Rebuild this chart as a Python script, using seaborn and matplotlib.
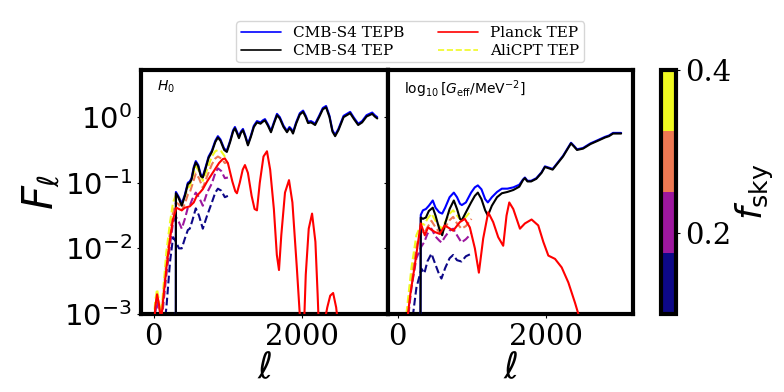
import numpy as np
import matplotlib
matplotlib.use('Agg')
import matplotlib.pyplot as plt
import seaborn as sns
from matplotlib.lines import Line2D
from matplotlib.colors import ListedColormap, Normalize
from matplotlib.ticker import FuncFormatter, MultipleLocator, NullLocator

# ---------------- data (log10 F_ell) ----------------
fsky = [0.1, 0.2, 0.3, 0.4]

# H0 panel, CMB-S4
ell_h0_s4 = [297, 299, 330, 378, 420, 460, 486, 510, 540, 567,
             600, 635, 662, 700, 740, 784, 830, 865, 900, 950,
             986, 1030, 1070, 1095, 1125, 1149, 1175, 1203, 1235, 1270,
             1310, 1350, 1392, 1440, 1470, 1500, 1540, 1581, 1620, 1662,
             1700, 1750, 1797, 1830, 1855, 1878, 1920, 1970, 2014, 2050,
             2081, 2120, 2150, 2176, 2230, 2280, 2324, 2370, 2410, 2446,
             2490, 2560, 2649, 2700, 2757, 2810, 2870, 2946, 2980, 3014]
logF_h0_tep = [-6, -1.16, -1.22, -1.35, -1.2, -1.02, -1.0, -0.95, -0.78, -0.69,
               -0.75, -0.9, -0.92, -0.78, -0.62, -0.53, -0.38, -0.31, -0.36, -0.5,
               -0.53, -0.38, -0.22, -0.17, -0.25, -0.32, -0.24, -0.2, -0.3, -0.43,
               -0.3, -0.15, -0.08, -0.1, -0.07, -0.05, -0.13, -0.23, -0.1, 0.03,
               -0.02, -0.15, -0.23, -0.17, -0.2, -0.25, -0.1, 0.04, 0.08, 0.0,
               -0.09, -0.08, -0.1, -0.12, 0.0, 0.12, 0.15, 0.0, -0.22, -0.29,
               -0.2, 0.0, 0.06, -0.03, -0.12, -0.08, 0.01, 0.05, 0.01, -0.02]
logF_h0_tepb = [-6, -1.14, -1.2, -1.32, -1.18, -1.0, -0.98, -0.93, -0.76, -0.67,
                -0.73, -0.88, -0.9, -0.76, -0.6, -0.51, -0.36, -0.29, -0.34, -0.48,
                -0.51, -0.36, -0.2, -0.15, -0.23, -0.3, -0.22, -0.18, -0.28, -0.41,
                -0.28, -0.13, -0.06, -0.08, -0.05, -0.03, -0.11, -0.21, -0.08, 0.05,
                0.0, -0.13, -0.21, -0.15, -0.18, -0.23, -0.08, 0.06, 0.1, 0.02,
                -0.07, -0.06, -0.08, -0.1, 0.02, 0.14, 0.17, 0.02, -0.2, -0.27,
                -0.18, 0.02, 0.08, -0.01, -0.1, -0.06, 0.03, 0.07, 0.03, 0.0]

# H0 panel, Planck
ell_h0_planck = [2, 20, 45, 70, 100, 130, 175, 220, 261, 306,
                 340, 378, 420, 486, 540, 580, 622, 660, 720, 800,
                 880, 930, 959, 1000, 1060, 1100, 1122, 1160, 1200, 1230,
                 1270, 1320, 1360, 1392, 1430, 1480, 1527, 1570, 1620, 1660,
                 1689, 1720, 1770, 1824, 1870, 1930, 1980, 2014, 2050, 2090,
                 2135, 2180, 2210, 2240, 2290, 2340, 2380, 2419, 2460, 2500, 2600]
logF_h0_planck = [-3.3, -2.9, -2.7, -2.85, -3.1, -2.75, -2.26, -1.85, -1.55, -1.38,
                  -1.4, -1.42, -1.38, -1.36, -1.3, -1.2, -1.15, -1.1, -0.98, -0.84,
                  -0.7, -0.64, -0.63, -0.7, -0.98, -1.13, -1.16, -1.0, -0.8, -0.73,
                  -0.85, -1.2, -1.4, -1.42, -1.0, -0.6, -0.52, -0.8, -1.4, -2.1,
                  -2.33, -1.8, -1.15, -0.96, -1.3, -2.3, -3.2, -3.6, -2.4, -1.7,
                  -1.47, -1.9, -2.7, -3.6, -3.2, -2.9, -2.72, -2.68, -2.9, -3.3, -4.0]

# H0 panel, AliCPT for each fsky
ell_h0_ali = [2, 20, 45, 70, 100, 130, 171, 220, 261, 300,
              340, 378, 420, 460, 486, 520, 567, 610, 662, 720,
              784, 830, 865, 910, 959, 1000]
logF_h0_ali_01 = [-3.6, -3.4, -3.2, -3.3, -3.5, -3.3, -2.9, -2.2, -1.83, -1.9,
                  -2.0, -2.0, -1.85, -1.72, -1.7, -1.58, -1.39, -1.5, -1.7, -1.5,
                  -1.3, -1.15, -1.09, -1.12, -1.22, -1.2]
logF_h0_ali_02 = [-3.3, -3.0, -2.8, -2.95, -3.2, -2.85, -2.4, -1.95, -1.6, -1.52,
                  -1.6, -1.7, -1.55, -1.38, -1.35, -1.25, -1.15, -1.22, -1.35, -1.15,
                  -1.01, -0.85, -0.78, -0.82, -0.93, -0.92]
logF_h0_ali_03 = [-3.2, -2.9, -2.7, -2.85, -3.1, -2.7, -2.2, -1.75, -1.45, -1.3,
                  -1.33, -1.42, -1.32, -1.18, -1.15, -1.03, -0.86, -0.93, -1.08, -0.9,
                  -0.72, -0.63, -0.6, -0.63, -0.7, -0.68]
logF_h0_ali_04 = [-3.1, -2.8, -2.62, -2.8, -3.05, -2.6, -2.05, -1.6, -1.3, -1.18,
                  -1.22, -1.3, -1.2, -1.08, -1.05, -0.92, -0.75, -0.82, -0.97, -0.8,
                  -0.6, -0.52, -0.5, -0.52, -0.6, -0.58]

# Geff panel, CMB-S4
ell_g_s4 = [300, 311, 340, 380, 420, 473, 510, 560, 600, 640,
            700, 757, 800, 840, 865, 920, 990, 1040, 1081, 1130,
            1180, 1216, 1270, 1340, 1405, 1480, 1560, 1640, 1690, 1716,
            1750, 1800, 1870, 1940, 1986, 2040, 2090, 2160, 2230, 2300,
            2338, 2380, 2419, 2500, 2600, 2700, 2797, 2850, 2905, 2960, 3014]
logF_g_tep = [-6, -1.53, -1.55, -1.53, -1.43, -1.38, -1.5, -1.7, -1.8, -1.62,
              -1.4, -1.27, -1.4, -1.55, -1.57, -1.45, -1.3, -1.2, -1.15, -1.25,
              -1.42, -1.5, -1.35, -1.22, -1.16, -1.14, -1.11, -1.06, -0.96, -0.93,
              -0.98, -0.98, -0.94, -0.85, -0.76, -0.78, -0.8, -0.7, -0.6, -0.47,
              -0.4, -0.45, -0.5, -0.48, -0.41, -0.36, -0.31, -0.29, -0.25, -0.25, -0.25]
logF_g_tepb = [-6, -1.49, -1.42, -1.4, -1.35, -1.27, -1.38, -1.45, -1.47, -1.38,
               -1.22, -1.15, -1.22, -1.32, -1.34, -1.3, -1.15, -1.07, -1.04, -1.1,
               -1.25, -1.3, -1.22, -1.14, -1.09, -1.09, -1.07, -1.03, -0.95, -0.92,
               -0.97, -0.97, -0.93, -0.84, -0.75, -0.77, -0.79, -0.69, -0.59, -0.46,
               -0.39, -0.44, -0.49, -0.47, -0.4, -0.35, -0.3, -0.28, -0.24, -0.24, -0.24]

# Geff panel, Planck
ell_g_planck = [2, 60, 117, 170, 230, 311, 365, 410, 500, 568,
                635, 748, 838, 905, 973, 1041, 1095, 1153, 1221, 1288,
                1356, 1423, 1468, 1505, 1559, 1649, 1716, 1806, 1896, 1964,
                2032, 2122, 2212, 2302, 2392, 2437, 2500]
logF_g_planck = [-4.5, -4.0, -3.2, -2.7, -2.26, -1.62, -1.8, -1.68, -1.75, -1.78,
                 -1.65, -1.73, -1.6, -1.55, -1.68, -2.0, -2.37, -1.85, -1.45, -1.6,
                 -1.83, -1.96, -1.5, -1.3, -1.4, -1.7, -1.62, -1.56, -1.65, -1.9,
                 -2.11, -2.16, -2.29, -2.52, -2.83, -3.0, -3.5]

# Geff panel, AliCPT for each fsky
ell_g_ali = [2, 60, 117, 185, 252, 320, 360, 400, 455, 510,
             560, 590, 640, 700, 748, 800, 860, 920, 995]
logF_g_ali_01 = [-4.5, -4.2, -3.8, -3.2, -2.6, -2.31, -2.38, -2.2, -2.08, -2.25,
                 -2.4, -2.46, -2.3, -2.15, -2.1, -2.18, -2.2, -2.12, -2.08]
logF_g_ali_02 = [-4.0, -3.8, -3.3, -2.6, -2.15, -1.97, -1.9, -1.78, -1.7, -1.82,
                 -1.88, -1.91, -1.82, -1.73, -1.7, -1.8, -1.91, -1.86, -1.77]
logF_g_ali_03 = [-4.0, -3.7, -3.1, -2.45, -1.95, -1.75, -1.76, -1.68, -1.58, -1.68,
                 -1.75, -1.78, -1.68, -1.57, -1.52, -1.62, -1.7, -1.66, -1.55]
logF_g_ali_04 = [-4.0, -3.6, -3.0, -2.3, -1.8, -1.62, -1.64, -1.55, -1.47, -1.58,
                 -1.66, -1.7, -1.6, -1.47, -1.42, -1.5, -1.58, -1.52, -1.42]

# ---------------- style ----------------
sns.set_style('white')
plt.rcParams['font.family'] = ['DejaVu Serif']
plt.rcParams['mathtext.fontset'] = 'dejavusans'
for k in ['text.color', 'axes.labelcolor', 'xtick.color', 'ytick.color', 'axes.edgecolor']:
    plt.rcParams[k] = 'black'

cols = plt.get_cmap('plasma')(np.linspace(0, 1, 4))
cmap = ListedColormap(cols)
norm = Normalize(0.1, 0.4)

fig = plt.figure(figsize=(7.84, 3.92), dpi=100)
axL = fig.add_axes([0.180, 0.199, 0.315, 0.622])
axR = fig.add_axes([0.495, 0.199, 0.312, 0.622], sharey=axL)
cax = fig.add_axes([0.843, 0.199, 0.019, 0.622])


def draw(ax, ell, logF, color, ls='-', z=2):
    sns.lineplot(x=ell, y=10.0 ** np.array(logF), ax=ax, color=color,
                 linestyle=ls, lw=1.5, zorder=z, sort=False)


panels = [
    (axL, ell_h0_ali, [logF_h0_ali_01, logF_h0_ali_02, logF_h0_ali_03, logF_h0_ali_04],
     ell_h0_planck, logF_h0_planck, ell_h0_s4, logF_h0_tepb, logF_h0_tep, r'$H_0$'),
    (axR, ell_g_ali, [logF_g_ali_01, logF_g_ali_02, logF_g_ali_03, logF_g_ali_04],
     ell_g_planck, logF_g_planck, ell_g_s4, logF_g_tepb, logF_g_tep,
     r'$\log_{10}[G_{\rm eff}/{\rm MeV}^{-2}]$'),
]

for ax, ell_a, ali, ell_p, lp, ell_s, lb, lk, lab in panels:
    for i, la in enumerate(ali):
        draw(ax, ell_a, la, cols[i], '--', 2)
    draw(ax, ell_s, lb, 'blue', '-', 3)
    draw(ax, ell_s, lk, 'black', '-', 4)
    draw(ax, ell_p, lp, 'red', '-', 5)
    ax.set_yscale('log')
    ax.set_ylim(1e-3, 5.2)
    ax.xaxis.set_major_locator(MultipleLocator(2000))
    ax.yaxis.set_minor_locator(NullLocator())
    ax.tick_params(axis='both', which='major', direction='out', length=3, width=0.8,
                   labelsize=21, bottom=True, left=True)
    for s in ax.spines.values():
        s.set_linewidth(3)
        s.set_color('black')
    ax.set_xlabel(r'$\ell$', fontsize=26, labelpad=0)
    ax.text(0.065, 0.965, lab, transform=ax.transAxes, ha='left', va='top', fontsize=10)

axL.set_xlim(-170, 3160)
axR.set_xlim(-130, 3170)
axL.yaxis.set_major_formatter(FuncFormatter(lambda v, p: r'$10^{%d}$' % round(np.log10(v))))
axR.tick_params(axis='y', labelleft=False)
axL.set_ylabel(r'$F_\ell$', fontsize=30, labelpad=2)

# colorbar
sm = plt.cm.ScalarMappable(norm=norm, cmap=cmap)
cb = fig.colorbar(sm, cax=cax, ticks=[0.2, 0.4])
cb.outline.set_linewidth(3)
cb.outline.set_edgecolor('black')
cb.ax.tick_params(labelsize=21, length=3, width=0.8, direction='out', right=True)
cb.set_label(r'$f_{\rm sky}$', fontsize=26, labelpad=2)

handles = [Line2D([], [], color='blue', lw=1.2),
           Line2D([], [], color='black', lw=1.2),
           Line2D([], [], color='red', lw=1.2),
           Line2D([], [], color=cols[3], lw=1.2, ls='--')]
labels = ['CMB-S4 TEPB', 'CMB-S4 TEP', 'Planck TEP', 'AliCPT TEP']
fig.legend(handles, labels, loc='center', bbox_to_anchor=(0.523, 0.893), ncol=2,
           fontsize=11, handlelength=2.6, columnspacing=2.2, frameon=True,
           borderpad=0.3, labelspacing=0.25, handletextpad=0.8)

fig.savefig('out.png', dpi=100)
